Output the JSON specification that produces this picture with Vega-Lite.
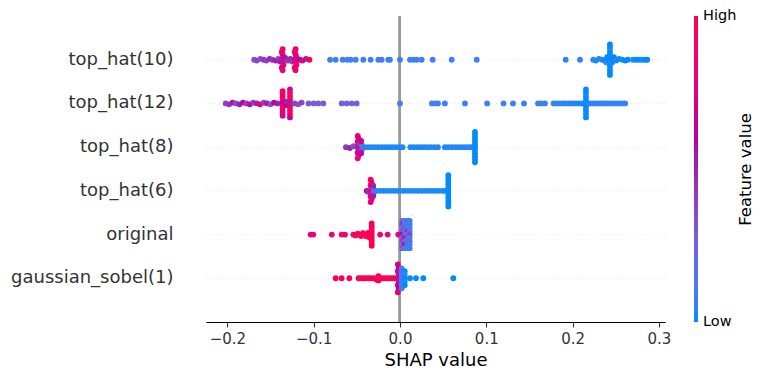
{
  "$schema": "https://vega.github.io/schema/vega-lite/v6.json",
  "autosize": {"type": "none"},
  "width": 459,
  "height": 306,
  "padding": {"left": 206, "top": 16, "right": 97, "bottom": 58},
  "config": {
    "view": {"stroke": null},
    "font": "DejaVu Sans",
    "legend": {"padding": 0}
  },
  "data": {"values": [
    {"f":"top_hat(10)","s":-0.169,"v":0.35,"o":0},
    {"f":"top_hat(10)","s":-0.166,"v":0.4,"o":0.05},
    {"f":"top_hat(10)","s":-0.162,"v":0.35,"o":-0.05},
    {"f":"top_hat(10)","s":-0.158,"v":0.45,"o":0},
    {"f":"top_hat(10)","s":-0.155,"v":0.4,"o":0.05},
    {"f":"top_hat(10)","s":-0.151,"v":0.5,"o":-0.05},
    {"f":"top_hat(10)","s":-0.148,"v":0.45,"o":0},
    {"f":"top_hat(10)","s":-0.144,"v":0.55,"o":0.05},
    {"f":"top_hat(10)","s":-0.141,"v":0.4,"o":-0.05},
    {"f":"top_hat(10)","s":-0.136,"v":0.95,"o":-0.6},
    {"f":"top_hat(10)","s":-0.137,"v":0.8,"o":-0.45},
    {"f":"top_hat(10)","s":-0.136,"v":0.9,"o":-0.3},
    {"f":"top_hat(10)","s":-0.135,"v":0.6,"o":-0.15},
    {"f":"top_hat(10)","s":-0.137,"v":0.75,"o":0},
    {"f":"top_hat(10)","s":-0.136,"v":1.0,"o":0.15},
    {"f":"top_hat(10)","s":-0.135,"v":0.85,"o":0.3},
    {"f":"top_hat(10)","s":-0.137,"v":0.65,"o":0.45},
    {"f":"top_hat(10)","s":-0.136,"v":0.9,"o":0.6},
    {"f":"top_hat(10)","s":-0.139,"v":0.5,"o":0.1},
    {"f":"top_hat(10)","s":-0.133,"v":0.55,"o":-0.1},
    {"f":"top_hat(10)","s":-0.130,"v":0.45,"o":0.05},
    {"f":"top_hat(10)","s":-0.127,"v":0.5,"o":-0.05},
    {"f":"top_hat(10)","s":-0.125,"v":0.4,"o":0.1},
    {"f":"top_hat(10)","s":-0.121,"v":0.8,"o":-0.6},
    {"f":"top_hat(10)","s":-0.122,"v":0.95,"o":-0.45},
    {"f":"top_hat(10)","s":-0.121,"v":0.7,"o":-0.3},
    {"f":"top_hat(10)","s":-0.120,"v":0.9,"o":-0.15},
    {"f":"top_hat(10)","s":-0.122,"v":0.55,"o":0},
    {"f":"top_hat(10)","s":-0.121,"v":0.85,"o":0.15},
    {"f":"top_hat(10)","s":-0.120,"v":1.0,"o":0.3},
    {"f":"top_hat(10)","s":-0.122,"v":0.7,"o":0.45},
    {"f":"top_hat(10)","s":-0.121,"v":0.95,"o":0.6},
    {"f":"top_hat(10)","s":-0.116,"v":0.6,"o":0},
    {"f":"top_hat(10)","s":-0.113,"v":0.75,"o":0.05},
    {"f":"top_hat(10)","s":-0.109,"v":0.55,"o":-0.05},
    {"f":"top_hat(10)","s":-0.105,"v":1.0,"o":0},
    {"f":"top_hat(10)","s":-0.081,"v":0.08,"o":0},
    {"f":"top_hat(10)","s":-0.0745,"v":0.08,"o":0},
    {"f":"top_hat(10)","s":-0.0664,"v":0.08,"o":0},
    {"f":"top_hat(10)","s":-0.061,"v":0.08,"o":0},
    {"f":"top_hat(10)","s":-0.0571,"v":0.08,"o":0},
    {"f":"top_hat(10)","s":-0.0513,"v":0.08,"o":0},
    {"f":"top_hat(10)","s":-0.0425,"v":0.08,"o":0},
    {"f":"top_hat(10)","s":-0.034,"v":0.08,"o":0},
    {"f":"top_hat(10)","s":-0.0251,"v":0.08,"o":0},
    {"f":"top_hat(10)","s":-0.0212,"v":0.08,"o":0},
    {"f":"top_hat(10)","s":-0.0136,"v":0.08,"o":0},
    {"f":"top_hat(10)","s":-0.0116,"v":0.08,"o":0},
    {"f":"top_hat(10)","s":0.0,"v":0.08,"o":0},
    {"f":"top_hat(10)","s":0.0116,"v":0.08,"o":0},
    {"f":"top_hat(10)","s":0.0154,"v":0.08,"o":0},
    {"f":"top_hat(10)","s":0.0194,"v":0.08,"o":0},
    {"f":"top_hat(10)","s":0.0251,"v":0.08,"o":0},
    {"f":"top_hat(10)","s":0.0379,"v":0.08,"o":0},
    {"f":"top_hat(10)","s":0.0599,"v":0.08,"o":0},
    {"f":"top_hat(10)","s":0.0889,"v":0.08,"o":0},
    {"f":"top_hat(10)","s":0.192,"v":0.06,"o":0},
    {"f":"top_hat(10)","s":0.2086,"v":0.06,"o":0},
    {"f":"top_hat(10)","s":0.224,"v":0.03,"o":0},
    {"f":"top_hat(10)","s":0.227,"v":0.02,"o":0.05},
    {"f":"top_hat(10)","s":0.2305,"v":0.03,"o":-0.05},
    {"f":"top_hat(10)","s":0.234,"v":0.02,"o":0},
    {"f":"top_hat(10)","s":0.2375,"v":0.0,"o":0.05},
    {"f":"top_hat(10)","s":0.240,"v":0.0,"o":-0.15},
    {"f":"top_hat(10)","s":0.239,"v":0.03,"o":0.15},
    {"f":"top_hat(10)","s":0.2433,"v":0.0,"o":-0.87},
    {"f":"top_hat(10)","s":0.2433,"v":0.0,"o":-0.7},
    {"f":"top_hat(10)","s":0.2433,"v":0.02,"o":-0.52},
    {"f":"top_hat(10)","s":0.2433,"v":0.0,"o":-0.35},
    {"f":"top_hat(10)","s":0.2433,"v":0.01,"o":-0.17},
    {"f":"top_hat(10)","s":0.2433,"v":0.0,"o":0},
    {"f":"top_hat(10)","s":0.2433,"v":0.02,"o":0.17},
    {"f":"top_hat(10)","s":0.2433,"v":0.0,"o":0.35},
    {"f":"top_hat(10)","s":0.2433,"v":0.01,"o":0.52},
    {"f":"top_hat(10)","s":0.2433,"v":0.0,"o":0.7},
    {"f":"top_hat(10)","s":0.2433,"v":0.0,"o":0.87},
    {"f":"top_hat(10)","s":0.246,"v":0.02,"o":0.15},
    {"f":"top_hat(10)","s":0.248,"v":0.0,"o":-0.15},
    {"f":"top_hat(10)","s":0.247,"v":0.0,"o":0},
    {"f":"top_hat(10)","s":0.2505,"v":0.02,"o":0.05},
    {"f":"top_hat(10)","s":0.254,"v":0.0,"o":-0.05},
    {"f":"top_hat(10)","s":0.2575,"v":0.01,"o":0},
    {"f":"top_hat(10)","s":0.261,"v":0.0,"o":0.05},
    {"f":"top_hat(10)","s":0.264,"v":0.0,"o":0},
    {"f":"top_hat(10)","s":0.270,"v":0.02,"o":0},
    {"f":"top_hat(10)","s":0.2735,"v":0.0,"o":0},
    {"f":"top_hat(10)","s":0.277,"v":0.0,"o":0},
    {"f":"top_hat(10)","s":0.2805,"v":0.02,"o":0},
    {"f":"top_hat(10)","s":0.284,"v":0.0,"o":0},
    {"f":"top_hat(10)","s":0.2865,"v":0.0,"o":0},

    {"f":"top_hat(12)","s":-0.202,"v":0.4,"o":0},
    {"f":"top_hat(12)","s":-0.198,"v":0.45,"o":0.05},
    {"f":"top_hat(12)","s":-0.194,"v":0.55,"o":-0.05},
    {"f":"top_hat(12)","s":-0.190,"v":0.35,"o":0},
    {"f":"top_hat(12)","s":-0.186,"v":0.5,"o":0.05},
    {"f":"top_hat(12)","s":-0.182,"v":0.6,"o":-0.05},
    {"f":"top_hat(12)","s":-0.178,"v":0.4,"o":0},
    {"f":"top_hat(12)","s":-0.174,"v":0.7,"o":0.05},
    {"f":"top_hat(12)","s":-0.170,"v":0.45,"o":-0.05},
    {"f":"top_hat(12)","s":-0.166,"v":0.5,"o":0},
    {"f":"top_hat(12)","s":-0.162,"v":0.8,"o":0.05},
    {"f":"top_hat(12)","s":-0.158,"v":0.4,"o":-0.05},
    {"f":"top_hat(12)","s":-0.154,"v":0.55,"o":0},
    {"f":"top_hat(12)","s":-0.150,"v":0.35,"o":0.05},
    {"f":"top_hat(12)","s":-0.146,"v":0.6,"o":-0.05},
    {"f":"top_hat(12)","s":-0.142,"v":0.5,"o":0},
    {"f":"top_hat(12)","s":-0.136,"v":0.9,"o":-0.7},
    {"f":"top_hat(12)","s":-0.136,"v":1.0,"o":-0.52},
    {"f":"top_hat(12)","s":-0.136,"v":0.75,"o":-0.35},
    {"f":"top_hat(12)","s":-0.136,"v":0.95,"o":-0.17},
    {"f":"top_hat(12)","s":-0.136,"v":0.6,"o":0},
    {"f":"top_hat(12)","s":-0.136,"v":0.85,"o":0.17},
    {"f":"top_hat(12)","s":-0.136,"v":1.0,"o":0.35},
    {"f":"top_hat(12)","s":-0.136,"v":0.8,"o":0.52},
    {"f":"top_hat(12)","s":-0.136,"v":0.7,"o":0.7},
    {"f":"top_hat(12)","s":-0.132,"v":0.6,"o":0.1},
    {"f":"top_hat(12)","s":-0.131,"v":0.5,"o":-0.1},
    {"f":"top_hat(12)","s":-0.1275,"v":0.7,"o":-0.8},
    {"f":"top_hat(12)","s":-0.1275,"v":0.95,"o":-0.6},
    {"f":"top_hat(12)","s":-0.1275,"v":0.85,"o":-0.4},
    {"f":"top_hat(12)","s":-0.1275,"v":1.0,"o":-0.2},
    {"f":"top_hat(12)","s":-0.1275,"v":0.5,"o":0},
    {"f":"top_hat(12)","s":-0.1275,"v":0.9,"o":0.2},
    {"f":"top_hat(12)","s":-0.1275,"v":0.8,"o":0.4},
    {"f":"top_hat(12)","s":-0.1275,"v":1.0,"o":0.6},
    {"f":"top_hat(12)","s":-0.1275,"v":0.65,"o":0.8},
    {"f":"top_hat(12)","s":-0.122,"v":0.4,"o":0},
    {"f":"top_hat(12)","s":-0.118,"v":0.35,"o":0.05},
    {"f":"top_hat(12)","s":-0.114,"v":0.4,"o":-0.05},
    {"f":"top_hat(12)","s":-0.106,"v":0.3,"o":0},
    {"f":"top_hat(12)","s":-0.100,"v":0.3,"o":0},
    {"f":"top_hat(12)","s":-0.0947,"v":0.3,"o":0},
    {"f":"top_hat(12)","s":-0.0889,"v":0.3,"o":0},
    {"f":"top_hat(12)","s":-0.0676,"v":0.25,"o":0},
    {"f":"top_hat(12)","s":-0.0618,"v":0.25,"o":0},
    {"f":"top_hat(12)","s":-0.056,"v":0.25,"o":0},
    {"f":"top_hat(12)","s":-0.0502,"v":0.25,"o":0},
    {"f":"top_hat(12)","s":0.0,"v":0.12,"o":0},
    {"f":"top_hat(12)","s":0.037,"v":0.08,"o":0},
    {"f":"top_hat(12)","s":0.041,"v":0.08,"o":0},
    {"f":"top_hat(12)","s":0.044,"v":0.08,"o":0},
    {"f":"top_hat(12)","s":0.052,"v":0.08,"o":0},
    {"f":"top_hat(12)","s":0.0753,"v":0.08,"o":0},
    {"f":"top_hat(12)","s":0.101,"v":0.08,"o":0},
    {"f":"top_hat(12)","s":0.120,"v":0.08,"o":0},
    {"f":"top_hat(12)","s":0.131,"v":0.08,"o":0},
    {"f":"top_hat(12)","s":0.1437,"v":0.08,"o":0},
    {"f":"top_hat(12)","s":0.160,"v":0.07,"o":0},
    {"f":"top_hat(12)","s":0.164,"v":0.07,"o":0},
    {"f":"top_hat(12)","s":0.168,"v":0.07,"o":0},
    {"f":"top_hat(12)","s":0.178,"v":0.05,"o":0},
    {"f":"top_hat(12)","s":0.1815,"v":0.05,"o":0},
    {"f":"top_hat(12)","s":0.185,"v":0.04,"o":0},
    {"f":"top_hat(12)","s":0.1885,"v":0.05,"o":0},
    {"f":"top_hat(12)","s":0.192,"v":0.03,"o":0},
    {"f":"top_hat(12)","s":0.1955,"v":0.04,"o":0},
    {"f":"top_hat(12)","s":0.199,"v":0.02,"o":0},
    {"f":"top_hat(12)","s":0.2025,"v":0.03,"o":0},
    {"f":"top_hat(12)","s":0.206,"v":0.02,"o":0},
    {"f":"top_hat(12)","s":0.2095,"v":0.02,"o":0},
    {"f":"top_hat(12)","s":0.213,"v":0.01,"o":0},
    {"f":"top_hat(12)","s":0.2155,"v":0.0,"o":-0.8},
    {"f":"top_hat(12)","s":0.2155,"v":0.0,"o":-0.6},
    {"f":"top_hat(12)","s":0.2155,"v":0.01,"o":-0.4},
    {"f":"top_hat(12)","s":0.2155,"v":0.0,"o":-0.2},
    {"f":"top_hat(12)","s":0.2155,"v":0.02,"o":0},
    {"f":"top_hat(12)","s":0.2155,"v":0.0,"o":0.2},
    {"f":"top_hat(12)","s":0.2155,"v":0.01,"o":0.4},
    {"f":"top_hat(12)","s":0.2155,"v":0.0,"o":0.6},
    {"f":"top_hat(12)","s":0.2155,"v":0.0,"o":0.8},
    {"f":"top_hat(12)","s":0.219,"v":0.03,"o":0},
    {"f":"top_hat(12)","s":0.2225,"v":0.05,"o":0},
    {"f":"top_hat(12)","s":0.226,"v":0.04,"o":0},
    {"f":"top_hat(12)","s":0.2295,"v":0.05,"o":0},
    {"f":"top_hat(12)","s":0.233,"v":0.06,"o":0},
    {"f":"top_hat(12)","s":0.2365,"v":0.05,"o":0},
    {"f":"top_hat(12)","s":0.240,"v":0.06,"o":0},
    {"f":"top_hat(12)","s":0.2435,"v":0.05,"o":0},
    {"f":"top_hat(12)","s":0.247,"v":0.06,"o":0},
    {"f":"top_hat(12)","s":0.2505,"v":0.05,"o":0},
    {"f":"top_hat(12)","s":0.254,"v":0.06,"o":0},
    {"f":"top_hat(12)","s":0.2575,"v":0.05,"o":0},
    {"f":"top_hat(12)","s":0.261,"v":0.06,"o":0},

    {"f":"top_hat(8)","s":-0.0626,"v":0.45,"o":0},
    {"f":"top_hat(8)","s":-0.058,"v":0.5,"o":0.05},
    {"f":"top_hat(8)","s":-0.054,"v":0.35,"o":-0.05},
    {"f":"top_hat(8)","s":-0.049,"v":0.95,"o":-0.64},
    {"f":"top_hat(8)","s":-0.048,"v":0.6,"o":-0.48},
    {"f":"top_hat(8)","s":-0.049,"v":1.0,"o":-0.32},
    {"f":"top_hat(8)","s":-0.048,"v":0.8,"o":-0.16},
    {"f":"top_hat(8)","s":-0.049,"v":0.5,"o":0},
    {"f":"top_hat(8)","s":-0.048,"v":0.9,"o":0.16},
    {"f":"top_hat(8)","s":-0.049,"v":0.7,"o":0.32},
    {"f":"top_hat(8)","s":-0.048,"v":0.55,"o":0.48},
    {"f":"top_hat(8)","s":-0.049,"v":0.85,"o":0.64},
    {"f":"top_hat(8)","s":-0.046,"v":0.5,"o":0.2},
    {"f":"top_hat(8)","s":-0.046,"v":0.4,"o":-0.2},
    {"f":"top_hat(8)","s":-0.044,"v":0.3,"o":0.12},
    {"f":"top_hat(8)","s":-0.044,"v":0.2,"o":-0.12},
    {"f":"top_hat(8)","s":-0.045,"v":0.65,"o":0.35},
    {"f":"top_hat(8)","s":-0.045,"v":0.7,"o":-0.35},
    {"f":"top_hat(8)","s":-0.041,"v":0.05,"o":0},
    {"f":"top_hat(8)","s":-0.037,"v":0.03,"o":0},
    {"f":"top_hat(8)","s":-0.033,"v":0.03,"o":0},
    {"f":"top_hat(8)","s":-0.029,"v":0.02,"o":0},
    {"f":"top_hat(8)","s":-0.025,"v":0.02,"o":0},
    {"f":"top_hat(8)","s":-0.021,"v":0.02,"o":0},
    {"f":"top_hat(8)","s":-0.017,"v":0.02,"o":0},
    {"f":"top_hat(8)","s":-0.013,"v":0.02,"o":0},
    {"f":"top_hat(8)","s":-0.009,"v":0.02,"o":0},
    {"f":"top_hat(8)","s":-0.005,"v":0.02,"o":0},
    {"f":"top_hat(8)","s":-0.001,"v":0.02,"o":0},
    {"f":"top_hat(8)","s":0.003,"v":0.02,"o":0},
    {"f":"top_hat(8)","s":0.012,"v":0.02,"o":0},
    {"f":"top_hat(8)","s":0.016,"v":0.02,"o":0},
    {"f":"top_hat(8)","s":0.020,"v":0.02,"o":0},
    {"f":"top_hat(8)","s":0.024,"v":0.02,"o":0},
    {"f":"top_hat(8)","s":0.028,"v":0.02,"o":0},
    {"f":"top_hat(8)","s":0.032,"v":0.02,"o":0},
    {"f":"top_hat(8)","s":0.036,"v":0.02,"o":0},
    {"f":"top_hat(8)","s":0.040,"v":0.02,"o":0},
    {"f":"top_hat(8)","s":0.044,"v":0.02,"o":0},
    {"f":"top_hat(8)","s":0.052,"v":0.02,"o":0},
    {"f":"top_hat(8)","s":0.056,"v":0.02,"o":0},
    {"f":"top_hat(8)","s":0.060,"v":0.02,"o":0},
    {"f":"top_hat(8)","s":0.064,"v":0.02,"o":0},
    {"f":"top_hat(8)","s":0.068,"v":0.02,"o":0},
    {"f":"top_hat(8)","s":0.072,"v":0.02,"o":0},
    {"f":"top_hat(8)","s":0.076,"v":0.02,"o":0},
    {"f":"top_hat(8)","s":0.080,"v":0.02,"o":0},
    {"f":"top_hat(8)","s":0.083,"v":0.02,"o":0},
    {"f":"top_hat(8)","s":0.0869,"v":0.0,"o":-0.87},
    {"f":"top_hat(8)","s":0.0869,"v":0.0,"o":-0.7},
    {"f":"top_hat(8)","s":0.0869,"v":0.0,"o":-0.52},
    {"f":"top_hat(8)","s":0.0869,"v":0.0,"o":-0.35},
    {"f":"top_hat(8)","s":0.0869,"v":0.0,"o":-0.17},
    {"f":"top_hat(8)","s":0.0869,"v":0.0,"o":0},
    {"f":"top_hat(8)","s":0.0869,"v":0.0,"o":0.17},
    {"f":"top_hat(8)","s":0.0869,"v":0.0,"o":0.35},
    {"f":"top_hat(8)","s":0.0869,"v":0.0,"o":0.52},
    {"f":"top_hat(8)","s":0.0869,"v":0.0,"o":0.7},
    {"f":"top_hat(8)","s":0.0869,"v":0.0,"o":0.87},

    {"f":"top_hat(6)","s":-0.0386,"v":0.6,"o":0},
    {"f":"top_hat(6)","s":-0.037,"v":0.45,"o":0.05},
    {"f":"top_hat(6)","s":-0.034,"v":1.0,"o":-0.64},
    {"f":"top_hat(6)","s":-0.033,"v":0.8,"o":-0.48},
    {"f":"top_hat(6)","s":-0.034,"v":0.95,"o":-0.32},
    {"f":"top_hat(6)","s":-0.033,"v":0.6,"o":-0.16},
    {"f":"top_hat(6)","s":-0.034,"v":0.85,"o":0},
    {"f":"top_hat(6)","s":-0.033,"v":1.0,"o":0.16},
    {"f":"top_hat(6)","s":-0.034,"v":0.7,"o":0.32},
    {"f":"top_hat(6)","s":-0.033,"v":0.9,"o":0.48},
    {"f":"top_hat(6)","s":-0.034,"v":0.75,"o":0.64},
    {"f":"top_hat(6)","s":-0.031,"v":0.4,"o":0.15},
    {"f":"top_hat(6)","s":-0.031,"v":0.35,"o":-0.15},
    {"f":"top_hat(6)","s":-0.030,"v":0.2,"o":0.06},
    {"f":"top_hat(6)","s":-0.031,"v":0.5,"o":-0.3},
    {"f":"top_hat(6)","s":-0.031,"v":0.55,"o":0.3},
    {"f":"top_hat(6)","s":-0.027,"v":0.05,"o":0},
    {"f":"top_hat(6)","s":-0.023,"v":0.03,"o":0},
    {"f":"top_hat(6)","s":-0.019,"v":0.02,"o":0},
    {"f":"top_hat(6)","s":-0.015,"v":0.02,"o":0},
    {"f":"top_hat(6)","s":-0.011,"v":0.02,"o":0},
    {"f":"top_hat(6)","s":-0.007,"v":0.02,"o":0},
    {"f":"top_hat(6)","s":-0.003,"v":0.02,"o":0},
    {"f":"top_hat(6)","s":0.001,"v":0.02,"o":0},
    {"f":"top_hat(6)","s":0.005,"v":0.02,"o":0},
    {"f":"top_hat(6)","s":0.009,"v":0.02,"o":0},
    {"f":"top_hat(6)","s":0.013,"v":0.02,"o":0},
    {"f":"top_hat(6)","s":0.017,"v":0.02,"o":0},
    {"f":"top_hat(6)","s":0.021,"v":0.02,"o":0},
    {"f":"top_hat(6)","s":0.025,"v":0.02,"o":0},
    {"f":"top_hat(6)","s":0.029,"v":0.02,"o":0},
    {"f":"top_hat(6)","s":0.033,"v":0.02,"o":0},
    {"f":"top_hat(6)","s":0.037,"v":0.02,"o":0},
    {"f":"top_hat(6)","s":0.041,"v":0.02,"o":0},
    {"f":"top_hat(6)","s":0.045,"v":0.02,"o":0},
    {"f":"top_hat(6)","s":0.049,"v":0.02,"o":0},
    {"f":"top_hat(6)","s":0.052,"v":0.02,"o":0},
    {"f":"top_hat(6)","s":0.056,"v":0.0,"o":-0.9},
    {"f":"top_hat(6)","s":0.056,"v":0.0,"o":-0.72},
    {"f":"top_hat(6)","s":0.056,"v":0.0,"o":-0.54},
    {"f":"top_hat(6)","s":0.056,"v":0.0,"o":-0.36},
    {"f":"top_hat(6)","s":0.056,"v":0.0,"o":-0.18},
    {"f":"top_hat(6)","s":0.056,"v":0.0,"o":0},
    {"f":"top_hat(6)","s":0.056,"v":0.0,"o":0.18},
    {"f":"top_hat(6)","s":0.056,"v":0.0,"o":0.36},
    {"f":"top_hat(6)","s":0.056,"v":0.0,"o":0.54},
    {"f":"top_hat(6)","s":0.056,"v":0.0,"o":0.72},
    {"f":"top_hat(6)","s":0.056,"v":0.0,"o":0.9},

    {"f":"original","s":-0.1035,"v":0.82,"o":0},
    {"f":"original","s":-0.1005,"v":0.8,"o":0},
    {"f":"original","s":-0.079,"v":0.82,"o":0},
    {"f":"original","s":-0.0676,"v":0.85,"o":0},
    {"f":"original","s":-0.0637,"v":0.85,"o":0},
    {"f":"original","s":-0.054,"v":0.9,"o":0},
    {"f":"original","s":-0.0515,"v":0.95,"o":0.05},
    {"f":"original","s":-0.049,"v":0.92,"o":-0.05},
    {"f":"original","s":-0.047,"v":0.97,"o":0},
    {"f":"original","s":-0.045,"v":1.0,"o":0.08},
    {"f":"original","s":-0.043,"v":0.95,"o":-0.08},
    {"f":"original","s":-0.041,"v":1.0,"o":0},
    {"f":"original","s":-0.039,"v":0.97,"o":0.1},
    {"f":"original","s":-0.037,"v":1.0,"o":-0.1},
    {"f":"original","s":-0.0355,"v":1.0,"o":0.15},
    {"f":"original","s":-0.0328,"v":1.0,"o":-0.64},
    {"f":"original","s":-0.0328,"v":0.97,"o":-0.48},
    {"f":"original","s":-0.0328,"v":1.0,"o":-0.32},
    {"f":"original","s":-0.0328,"v":0.98,"o":-0.16},
    {"f":"original","s":-0.0328,"v":1.0,"o":0},
    {"f":"original","s":-0.0328,"v":0.97,"o":0.16},
    {"f":"original","s":-0.0328,"v":1.0,"o":0.32},
    {"f":"original","s":-0.0328,"v":0.98,"o":0.48},
    {"f":"original","s":-0.0328,"v":1.0,"o":0.64},
    {"f":"original","s":-0.023,"v":0.85,"o":0},
    {"f":"original","s":-0.0143,"v":0.85,"o":0},
    {"f":"original","s":-0.002,"v":0.85,"o":0},
    {"f":"original","s":0.0025,"v":0.3,"o":-0.78},
    {"f":"original","s":0.0025,"v":0.45,"o":-0.58},
    {"f":"original","s":0.0025,"v":0.2,"o":-0.39},
    {"f":"original","s":0.0025,"v":0.35,"o":-0.19},
    {"f":"original","s":0.0025,"v":0.6,"o":0},
    {"f":"original","s":0.0025,"v":0.25,"o":0.19},
    {"f":"original","s":0.0025,"v":0.4,"o":0.39},
    {"f":"original","s":0.0025,"v":0.15,"o":0.58},
    {"f":"original","s":0.0025,"v":0.3,"o":0.78},
    {"f":"original","s":0.0055,"v":0.15,"o":-0.78},
    {"f":"original","s":0.0055,"v":0.1,"o":-0.58},
    {"f":"original","s":0.0055,"v":0.3,"o":-0.39},
    {"f":"original","s":0.0055,"v":0.12,"o":-0.19},
    {"f":"original","s":0.0055,"v":0.2,"o":0},
    {"f":"original","s":0.0055,"v":0.75,"o":0.19},
    {"f":"original","s":0.0055,"v":0.15,"o":0.39},
    {"f":"original","s":0.0055,"v":0.7,"o":0.58},
    {"f":"original","s":0.0055,"v":0.1,"o":0.78},
    {"f":"original","s":0.0085,"v":0.25,"o":-0.78},
    {"f":"original","s":0.0085,"v":0.05,"o":-0.58},
    {"f":"original","s":0.0085,"v":0.15,"o":-0.39},
    {"f":"original","s":0.0085,"v":0.45,"o":-0.19},
    {"f":"original","s":0.0085,"v":0.1,"o":0},
    {"f":"original","s":0.0085,"v":0.3,"o":0.19},
    {"f":"original","s":0.0085,"v":0.05,"o":0.39},
    {"f":"original","s":0.0085,"v":0.2,"o":0.58},
    {"f":"original","s":0.0085,"v":0.1,"o":0.78},
    {"f":"original","s":0.0112,"v":0.05,"o":-0.78},
    {"f":"original","s":0.0112,"v":0.15,"o":-0.58},
    {"f":"original","s":0.0112,"v":0.05,"o":-0.39},
    {"f":"original","s":0.0112,"v":0.2,"o":-0.19},
    {"f":"original","s":0.0112,"v":0.4,"o":0},
    {"f":"original","s":0.0112,"v":0.08,"o":0.19},
    {"f":"original","s":0.0112,"v":0.25,"o":0.39},
    {"f":"original","s":0.0112,"v":0.05,"o":0.58},
    {"f":"original","s":0.0112,"v":0.1,"o":0.78},

    {"f":"gaussian_sobel(1)","s":-0.0745,"v":0.95,"o":0},
    {"f":"gaussian_sobel(1)","s":-0.0676,"v":0.95,"o":0},
    {"f":"gaussian_sobel(1)","s":-0.0587,"v":0.95,"o":0},
    {"f":"gaussian_sobel(1)","s":-0.048,"v":0.97,"o":0},
    {"f":"gaussian_sobel(1)","s":-0.045,"v":1.0,"o":0},
    {"f":"gaussian_sobel(1)","s":-0.042,"v":0.96,"o":0},
    {"f":"gaussian_sobel(1)","s":-0.039,"v":1.0,"o":0},
    {"f":"gaussian_sobel(1)","s":-0.036,"v":0.97,"o":0},
    {"f":"gaussian_sobel(1)","s":-0.033,"v":1.0,"o":0},
    {"f":"gaussian_sobel(1)","s":-0.030,"v":0.96,"o":0},
    {"f":"gaussian_sobel(1)","s":-0.027,"v":1.0,"o":0.08},
    {"f":"gaussian_sobel(1)","s":-0.025,"v":1.0,"o":0.12},
    {"f":"gaussian_sobel(1)","s":-0.025,"v":0.97,"o":-0.12},
    {"f":"gaussian_sobel(1)","s":-0.024,"v":1.0,"o":0},
    {"f":"gaussian_sobel(1)","s":-0.021,"v":0.97,"o":0},
    {"f":"gaussian_sobel(1)","s":-0.018,"v":1.0,"o":0},
    {"f":"gaussian_sobel(1)","s":-0.015,"v":0.95,"o":0},
    {"f":"gaussian_sobel(1)","s":-0.012,"v":0.97,"o":0},
    {"f":"gaussian_sobel(1)","s":-0.009,"v":0.95,"o":0},
    {"f":"gaussian_sobel(1)","s":-0.006,"v":0.9,"o":0},
    {"f":"gaussian_sobel(1)","s":-0.0025,"v":0.75,"o":-0.8},
    {"f":"gaussian_sobel(1)","s":-0.0015,"v":0.6,"o":-0.6},
    {"f":"gaussian_sobel(1)","s":-0.0025,"v":0.7,"o":-0.4},
    {"f":"gaussian_sobel(1)","s":-0.0015,"v":0.55,"o":-0.2},
    {"f":"gaussian_sobel(1)","s":-0.0025,"v":0.8,"o":0},
    {"f":"gaussian_sobel(1)","s":-0.0015,"v":0.5,"o":0.2},
    {"f":"gaussian_sobel(1)","s":-0.0025,"v":0.65,"o":0.4},
    {"f":"gaussian_sobel(1)","s":-0.0015,"v":0.6,"o":0.6},
    {"f":"gaussian_sobel(1)","s":-0.0025,"v":0.8,"o":0.8},
    {"f":"gaussian_sobel(1)","s":0.002,"v":0.1,"o":-0.57},
    {"f":"gaussian_sobel(1)","s":0.002,"v":0.2,"o":-0.38},
    {"f":"gaussian_sobel(1)","s":0.002,"v":0.05,"o":-0.19},
    {"f":"gaussian_sobel(1)","s":0.002,"v":0.15,"o":0},
    {"f":"gaussian_sobel(1)","s":0.002,"v":0.05,"o":0.19},
    {"f":"gaussian_sobel(1)","s":0.002,"v":0.2,"o":0.38},
    {"f":"gaussian_sobel(1)","s":0.002,"v":0.1,"o":0.57},
    {"f":"gaussian_sobel(1)","s":0.0055,"v":0.0,"o":-0.4},
    {"f":"gaussian_sobel(1)","s":0.0055,"v":0.05,"o":-0.2},
    {"f":"gaussian_sobel(1)","s":0.0055,"v":0.0,"o":0},
    {"f":"gaussian_sobel(1)","s":0.0055,"v":0.02,"o":0.2},
    {"f":"gaussian_sobel(1)","s":0.0055,"v":0.0,"o":0.4},
    {"f":"gaussian_sobel(1)","s":0.0116,"v":0.0,"o":0},
    {"f":"gaussian_sobel(1)","s":0.0185,"v":0.0,"o":0},
    {"f":"gaussian_sobel(1)","s":0.027,"v":0.0,"o":0},
    {"f":"gaussian_sobel(1)","s":0.0618,"v":0.0,"o":0}
  ]},
  "layer": [
    {
      "mark": {"type": "rule", "color": "#999999", "strokeWidth": 2},
      "encoding": {
        "x": {"datum": 0, "type": "quantitative"},
        "y": {
          "datum": 0, "type": "quantitative",
          "scale": {"domain": [0, 1], "nice": false, "zero": false},
          "axis": {
            "orient": "right",
            "title": "Feature value",
            "titleAngle": -90,
            "titleBaseline": "top",
            "titleFontSize": 16.5,
            "titleFontWeight": "normal",
            "titleColor": "#000000",
            "titlePadding": 72,
            "labels": false,
            "ticks": false,
            "domain": false,
            "grid": false
          }
        },
        "y2": {"datum": 1}
      }
    },
    {
      "mark": {"type": "circle", "size": 34, "opacity": 1},
      "encoding": {
        "x": {
          "field": "s", "type": "quantitative",
          "scale": {"domain": [-0.2248, 0.3071], "nice": false, "zero": false},
          "axis": {
            "values": [-0.2, -0.1, 0, 0.1, 0.2, 0.3],
            "format": ".1f",
            "grid": false,
            "domainColor": "#000000",
            "domainWidth": 1.1,
            "tickColor": "#333333",
            "tickSize": 5,
            "tickWidth": 1.1,
            "labelFontSize": 15,
            "labelColor": "#333333",
            "labelPadding": 4,
            "title": "SHAP value",
            "titleFontSize": 18,
            "titleFontWeight": "normal",
            "titleColor": "#000000",
            "titlePadding": 5
          }
        },
        "y": {
          "field": "f", "type": "nominal",
          "scale": {
            "type": "band",
            "domain": ["top_hat(10)", "top_hat(12)", "top_hat(8)", "top_hat(6)", "original", "gaussian_sobel(1)"],
            "paddingInner": 0,
            "paddingOuter": 0.5
          },
          "axis": {
            "title": null,
            "ticks": false,
            "domain": false,
            "labelPadding": 33,
            "labelFontSize": 18,
            "labelColor": "#333333",
            "grid": true,
            "bandPosition": 0.5,
            "gridColor": "#cccccc",
            "gridWidth": 0.7,
            "gridDash": [0.7, 3.5]
          }
        },
        "yOffset": {
          "field": "o", "type": "quantitative",
          "scale": {"domain": [-1.25, 1.25], "range": [0, 43.71]}
        },
        "color": {
          "field": "v", "type": "quantitative",
          "scale": {"domain": [0, 0.5, 1], "range": ["#008bfb", "#9b23ad", "#ff0051"], "interpolate": "hcl"},
          "legend": {
            "title": null,
            "orient": "none",
            "legendX": 488,
            "legendY": 0,
            "direction": "vertical",
            "gradientLength": 306,
            "gradientThickness": 4,
            "gradientStrokeWidth": 0,
            "values": [0.0001, 0.9999],
            "labelExpr": "datum.value >= 0.5 ? 'High' : 'Low'",
            "labelFontSize": 14.5,
            "labelColor": "#000000",
            "labelOffset": 5
          }
        }
      }
    }
  ],
  "resolve": {"scale": {"y": "independent"}, "axis": {"y": "independent"}}
}
